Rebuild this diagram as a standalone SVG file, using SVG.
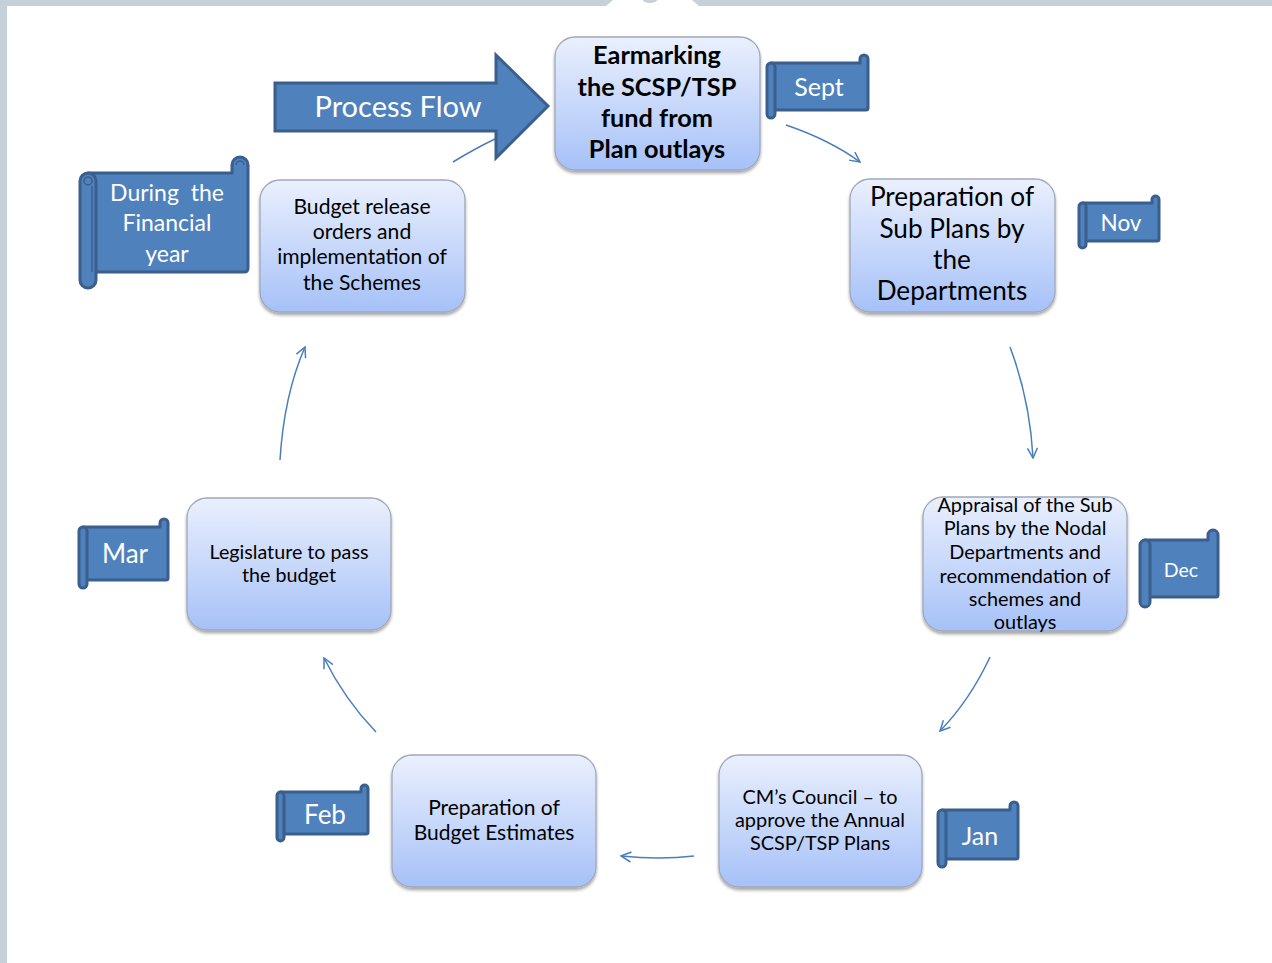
<svg xmlns="http://www.w3.org/2000/svg" width="1272" height="963" viewBox="0 0 1272 963">
<defs>
<linearGradient id="ng" x1="0" y1="0" x2="0" y2="1">
<stop offset="0" stop-color="#eaf0fd"/>
<stop offset="1" stop-color="#a6c1f8"/>
</linearGradient>
<filter id="sh" x="-10%" y="-10%" width="120%" height="130%">
<feDropShadow dx="0" dy="2.5" stdDeviation="1.8" flood-color="#000" flood-opacity="0.35"/>
</filter>
<marker id="ah" viewBox="0 0 12 12" refX="11" refY="6" markerWidth="12" markerHeight="12" markerUnits="userSpaceOnUse" orient="auto">
<path d="M1,1 L11,6 L1,11" fill="none" stroke="#4a7ebb" stroke-width="1.5"/>
</marker>
<style>
.node{fill:url(#ng);stroke:#a0a8b8;stroke-width:1.3;filter:url(#sh)}
.nt{font-family:Lato,"Liberation Sans",sans-serif;fill:#000;text-anchor:middle}
.scr{fill:#4f81bd;stroke:#3a5f8c;stroke-width:3;stroke-linejoin:round}
.scl{fill:none;stroke:#3a5f8c;stroke-width:1.5}
.st{font-family:Lato,"Liberation Sans",sans-serif;fill:#fff;text-anchor:middle}
.con{fill:none;stroke:#4a7ebb;stroke-width:1.5}
</style>
</defs>
<rect width="1272" height="963" fill="#fff"/>
<rect x="0" y="0" width="1272" height="6" fill="#c5d0d8"/>
<rect x="0" y="0" width="7" height="963" fill="#c5d0d8"/>
<path d="M606,6 L613,0 L692,0 L699,6 Z" fill="#fff"/>
<ellipse cx="650" cy="0" rx="7" ry="3" fill="#c5d0d8"/>

<g id="connectors">
<path class="con" d="M453,162 Q476,148 497,138"/>
<path class="con" d="M786,125 Q830,140 860,162" marker-end="url(#ah)"/>
<path class="con" d="M1010,347 Q1030,400 1033,458" marker-end="url(#ah)"/>
<path class="con" d="M990,657 Q970,700 940,731" marker-end="url(#ah)"/>
<path class="con" d="M694,856 Q660,860 621,856" marker-end="url(#ah)"/>
<path class="con" d="M376,732 Q345,700 324,658" marker-end="url(#ah)"/>
<path class="con" d="M280,460 Q284,395 305,347" marker-end="url(#ah)"/>
</g>

<g id="process-flow">
<path d="M275,83 H496 V55 L548,106 L496,158 V131 H275 Z" fill="#4f81bd" stroke="#3a5f8c" stroke-width="3" stroke-linejoin="miter"/>
<text class="st" x="398" y="117" font-size="29">Process Flow</text>
</g>

<g id="n-earmarking">
<rect class="node" x="555" y="37" width="205" height="133" rx="20"/>
<text class="nt" font-weight="bold" font-size="25.3"><tspan x="657" y="64">Earmarking</tspan><tspan x="657" y="96">the SCSP/TSP</tspan><tspan x="657" y="127">fund from</tspan><tspan x="657" y="158">Plan outlays</tspan></text>
</g>

<g id="n-subplans">
<rect class="node" x="850" y="179" width="205" height="133" rx="20"/>
<text class="nt" font-size="26.2"><tspan x="952" y="206">Preparation of</tspan><tspan x="952" y="238">Sub Plans by</tspan><tspan x="952" y="269">the</tspan><tspan x="952" y="300">Departments</tspan></text>
</g>

<g id="n-appraisal">
<rect class="node" x="923" y="497" width="204" height="134" rx="20"/>
<text class="nt" font-size="19.9"><tspan x="1025" y="512">Appraisal of the Sub</tspan><tspan x="1025" y="535">Plans by the Nodal</tspan><tspan x="1025" y="559">Departments and</tspan><tspan x="1025" y="583">recommendation of</tspan><tspan x="1025" y="606">schemes and</tspan><tspan x="1025" y="629">outlays</tspan></text>
</g>

<g id="n-cm">
<rect class="node" x="719" y="755" width="203" height="132" rx="20"/>
<text class="nt" font-size="19.9"><tspan x="820" y="804">CM’s Council – to</tspan><tspan x="820" y="827">approve the Annual</tspan><tspan x="820" y="850">SCSP/TSP Plans</tspan></text>
</g>

<g id="n-estimates">
<rect class="node" x="392" y="755" width="204" height="132" rx="20"/>
<text class="nt" font-size="21"><tspan x="494" y="815">Preparation of</tspan><tspan x="494" y="840">Budget Estimates</tspan></text>
</g>

<g id="n-legislature">
<rect class="node" x="187" y="498" width="204" height="132" rx="20"/>
<text class="nt" font-size="19.7"><tspan x="289" y="559">Legislature to pass</tspan><tspan x="289" y="582">the budget</tspan></text>
</g>

<g id="n-release">
<rect class="node" x="260" y="180" width="205" height="132" rx="20"/>
<text class="nt" font-size="21.1"><tspan x="362" y="214">Budget release</tspan><tspan x="362" y="239">orders and</tspan><tspan x="362" y="264">implementation of</tspan><tspan x="362" y="290">the Schemes</tspan></text>
</g>

<g id="s-year">
<path class="scr" d="M88,173 H232 V165 A8 8 0 0 1 248,165 V268 Q248,272 244,272 H88 Z"/>
<path class="scl" d="M236,165 A4 4 0 0 1 244,165"/>
<rect class="scr" x="80" y="173" width="16" height="115" rx="8"/>
<circle class="scl" cx="88" cy="181" r="4"/>
<path class="scl" d="M92,186 V272"/>
<text class="st" font-size="23" xml:space="preserve"><tspan x="167" y="201">During  the</tspan><tspan x="167" y="231">Financial</tspan><tspan x="167" y="262">year</tspan></text>
</g>

<g id="s-sept">
<path class="scr" d="M771,63 H860 V59 A4 4 0 0 1 868,59 V108 Q868,110 866,110 H771 Z"/>
<rect class="scr" x="767" y="63" width="8" height="55" rx="4"/>
<text class="st" x="819" y="96" font-size="25">Sept</text>
</g>

<g id="s-nov">
<path class="scr" d="M1082.5,203 H1152 V199.5 A3.5 3.5 0 0 1 1159,199.5 V239 Q1159,241 1157,241 H1082.5 Z"/>
<rect class="scr" x="1079" y="203" width="7" height="45" rx="3.5"/>
<text class="st" x="1121" y="231" font-size="22.5">Nov</text>
</g>

<g id="s-dec">
<path class="scr" d="M1145,540 H1208 V535 A5 5 0 0 1 1218,535 V595 Q1218,597 1216,597 H1145 Z"/>
<rect class="scr" x="1140" y="540" width="10" height="67" rx="5"/>
<text class="st" x="1181" y="577" font-size="19.5">Dec</text>
</g>

<g id="s-jan">
<path class="scr" d="M942,810 H1010 V806 A4 4 0 0 1 1018,806 V857 Q1018,859 1016,859 H942 Z"/>
<rect class="scr" x="938" y="810" width="8" height="57" rx="4"/>
<text class="st" x="980" y="845" font-size="25">Jan</text>
</g>

<g id="s-feb">
<path class="scr" d="M280.5,792 H361 V788.5 A3.5 3.5 0 0 1 368,788.5 V832 Q368,834 366,834 H280.5 Z"/>
<rect class="scr" x="277" y="792" width="7" height="49" rx="3.5"/>
<text class="st" x="325" y="824" font-size="26">Feb</text>
</g>

<g id="s-mar">
<path class="scr" d="M83,527 H160 V523 A4 4 0 0 1 168,523 V578 Q168,580 166,580 H83 Z"/>
<rect class="scr" x="79" y="527" width="8" height="61" rx="4"/>
<text class="st" x="125" y="563" font-size="26">Mar</text>
</g>
</svg>
